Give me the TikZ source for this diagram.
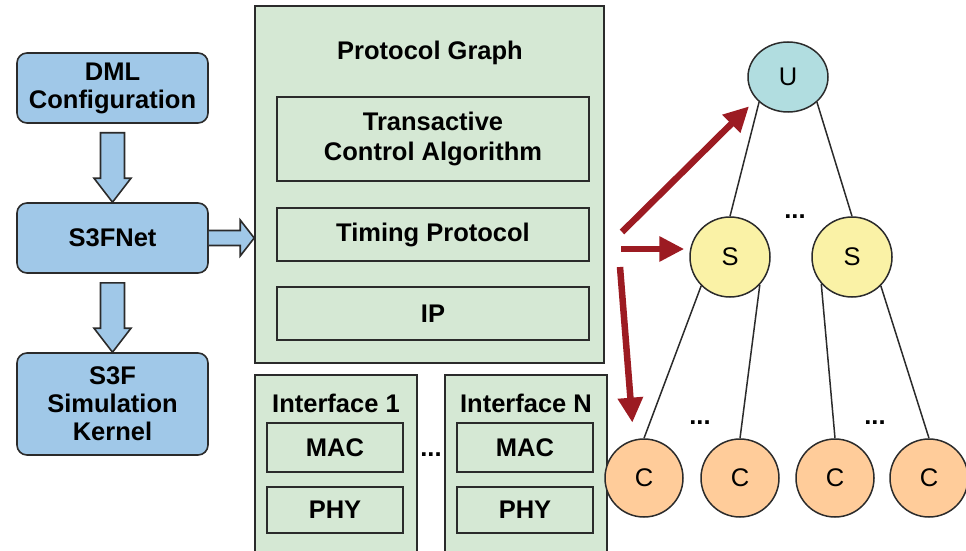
\documentclass[tikz,border=0pt]{standalone}
\usepackage{fontspec}
\setmainfont{Liberation Sans}
\usepackage{tikz}
\usetikzlibrary{arrows.meta,calc,shapes.geometric}
\definecolor{ink}{HTML}{2B2B2B}
\definecolor{sky}{HTML}{A0C8E8}
\definecolor{leaf}{HTML}{D5E8D4}
\definecolor{ucol}{HTML}{B1DDE0}
\definecolor{lemon}{HTML}{FAF2A6}
\definecolor{peach}{HTML}{FFCC9A}
\definecolor{wine}{HTML}{9C1B22}
\tikzset{
  lbl/.style={font=\fontsize{25.5}{28}\selectfont\bfseries,text=black,align=center,inner sep=0pt},
  sbox/.style={lbl,draw=ink,fill=sky,line width=1.6pt,rounded corners=10pt,minimum width=191pt},
  frame/.style={draw=ink,fill=leaf,line width=1.6pt,inner sep=0pt},
  layer/.style={lbl,draw=ink,line width=1.5pt},
  fat/.style={draw=ink,fill=sky,line width=1.6pt,line join=miter},
  tnode/.style={draw=ink,line width=1.5pt,inner sep=0pt,font=\fontsize{25.5}{28}\selectfont,text=black},
  cnode/.style={tnode,circle,fill=peach,minimum size=78pt},
  snode/.style={tnode,circle,fill=lemon,minimum size=80pt},
  tedge/.style={draw=ink,line width=1.5pt},
  redarrow/.style={wine,line width=6.5pt,-{Triangle[length=25pt,width=24pt]}},
}
\newcommand{\downblock}[2]{%
  \draw[fat] ($(#1.south)+(-12,-9)$) -- ($(#2.north)+(-12,24)$) -- ($(#2.north)+(-18.5,24)$)
    -- (#2.north) -- ($(#2.north)+(18.5,24)$) -- ($(#2.north)+(12,24)$) -- ($(#1.south)+(12,-9)$) -- cycle;
}
\begin{document}
\begin{tikzpicture}[x=1pt,y=1pt]
    \useasboundingbox (0,0) rectangle (966,550);
    % simulator stack
    \node[sbox,minimum height=70pt] (dml) at (112.5,462) {DML\\Configuration};
    \node[sbox,minimum height=70pt] (net) at (112.5,312) {S3FNet};
    \node[sbox,minimum height=102pt] (kern) at (112.5,146) {S3F\\Simulation\\Kernel};
    \downblock{dml}{net}
    \downblock{net}{kern}
    % protocol graph
    \node[frame,minimum width=349pt,minimum height=357pt] (pg) at (429.5,365.5) {};
    \node[lbl] (pgtitle) at (430,497) {Protocol Graph};
    \node[layer,minimum width=312pt,minimum height=84pt] (tca) at (433,411) {Transactive\\[2pt]Control Algorithm};
    \node[layer,minimum width=312pt,minimum height=53pt] (timing) at (433,315.5) {Timing Protocol};
    \node[layer,minimum width=312pt,minimum height=53pt] (ip) at (433,236.5) {IP};
    \coordinate (nettip) at (net.east -| pg.west);
    \draw[fat] ($(net.east)+(0,7.5)$) -- ($(nettip)+(-14,7.5)$) -- ($(nettip)+(-14,18)$) -- (nettip)
      -- ($(nettip)+(-14,-18)$) -- ($(nettip)+(-14,-7.5)$) -- ($(net.east)+(0,-7.5)$);
    % interfaces
    \foreach \n/\x/\t in {1/336/Interface 1,N/526/Interface N} {
      \node[frame,minimum width=162pt,minimum height=181pt] (if\n) at (\x,84.5) {};
      \node[lbl] (iftitle\n) at (\x,147) {\t};
      \node[layer,minimum width=136pt,minimum height=49pt] (mac\n) at (\x-1,102.5) {MAC};
      \node[layer,minimum width=136pt,minimum height=46pt] (phy\n) at (\x-1,40) {PHY};
    }
    \node[lbl] (ifdots) at (431,95) {...};
    % tree
    \node[tnode,ellipse,fill=ucol,minimum width=80pt,minimum height=70pt] (U) at (788,473) {U};
    \node[snode] (S1) at (730,293) {S};
    \node[snode] (S2) at (852,293) {S};
    \foreach \i/\x in {1/644,2/740,3/835,4/929} {
      \node[cnode] (C\i) at (\x,72) {C};
    }
    \draw[tedge] (U.221) -- (S1.north);
    \draw[tedge] (U.319) -- (S2.north);
    \draw[tedge] (S1.225) -- (C1.north);
    \draw[tedge] (S1.317) -- (C2.north);
    \draw[tedge] (S2.221) -- (C3.north);
    \draw[tedge] (S2.315) -- (C4.north);
    \node[lbl] (sdots) at (795,333) {...};
    \node[lbl] (cdots1) at (700,127) {...};
    \node[lbl] (cdots2) at (875,127) {...};
    % mapping arrows
    \coordinate (r1) at (622,318);
    \coordinate (r2) at (621,301);
    \coordinate (r3) at (620,283);
    \draw[redarrow,shorten >=10pt] (r1) -- (U.215);
    \draw[redarrow,shorten >=5pt] (r2) -- (r2 -| S1.west);
    \draw[redarrow,shorten >=17pt] (r3) -- (C1.105);
  \end{tikzpicture}
\end{document}
